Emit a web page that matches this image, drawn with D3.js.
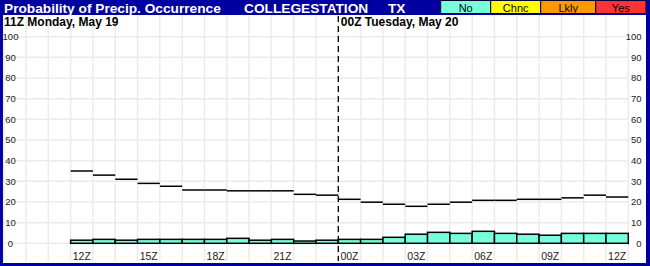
<!DOCTYPE html>
<html>
<head>
<meta charset="utf-8">
<script src="https://cdn.jsdelivr.net/npm/d3@7"></script>
<style>
  html, body { margin: 0; padding: 0; background: #0000A0; }
  svg { display: block; }
  text { font-family: Arial, "Liberation Sans", sans-serif; }
</style>
</head>
<body>
<svg id="chart" width="650" height="266"></svg>
<script>
// ---- data ----
const hours = ["12Z","13Z","14Z","15Z","16Z","17Z","18Z","19Z","20Z","21Z","22Z","23Z",
               "00Z","01Z","02Z","03Z","04Z","05Z","06Z","07Z","08Z","09Z","10Z","11Z","12Z"];
const noValues = [1.5,1.9,1.5,1.9,1.9,1.9,1.9,2.4,1.5,1.9,1.1,1.5,
                  1.9,1.9,2.9,4.4,5.3,4.8,5.8,4.8,4.4,3.9,4.8,4.8,4.8];
const popValues = [35,33,31,29,27.6,25.8,25.8,25.4,25.4,25.4,23.7,23.3,
                   21.3,19.9,18.9,17.9,18.9,19.9,20.8,20.8,21.3,21.3,22,23.3,22.4];
const tickLabels = ["12Z","15Z","18Z","21Z","00Z","03Z","06Z","09Z","12Z"];
const yTicks = [0,10,20,30,40,50,60,70,80,90,100];
const dayLabels = ["11Z Monday, May 19", "00Z Tuesday, May 20"];
const titleText = "Probability of Precip. Occurrence";
const stationText = "COLLEGESTATION";
const stateText = "TX";
const legendNames = ["No","Chnc","Lkly","Yes"];
const legendColors = ["#77FFDD","#FFFF00","#FF9900","#FF3333"];

// ---- layout ----
const W = 650, H = 266;
const svg = d3.select("#chart");
const x = d3.scaleLinear().domain([-3, 25]).range([3.7, 628.3]);
const y = d3.scaleLinear().domain([0, 100]).range([243.3, 36.7]);

// background panel
svg.append("rect").attr("x",0).attr("y",0).attr("width",W).attr("height",H).attr("fill","#0000A0");
svg.append("rect").attr("x",3).attr("y",15).attr("width",643).attr("height",248).attr("fill","#ffffff");

// grid
const grid = svg.append("g").attr("stroke","#ebebeb").attr("stroke-width",1.5);
d3.range(-3, 26).forEach(i => {
  grid.append("line").attr("x1",x(i)).attr("x2",x(i)).attr("y1",15).attr("y2",261);
});
yTicks.forEach(v => {
  grid.append("line").attr("x1",3).attr("x2",x(25)).attr("y1",y(v)).attr("y2",y(v));
});

// y labels
const yl = svg.append("g").attr("font-size","9.5px").attr("fill","#222");
yTicks.forEach(v => {
  yl.append("text").attr("x",10.5).attr("y",y(v)).attr("dy","0.35em")
    .attr("text-anchor","middle").text(v);
  yl.append("text").attr("x",641.5).attr("y",y(v)).attr("dy","0.35em")
    .attr("text-anchor","end").text(v);
});

// bars
svg.append("g").selectAll("rect").data(noValues).join("rect")
  .attr("x",(d,i)=>x(i)).attr("width",(d,i)=>x(i+1)-x(i))
  .attr("y",d=>y(d)).attr("height",d=>y(0)-y(d))
  .attr("fill","#77FFDD").attr("stroke","#000").attr("stroke-width",1.5);

// step line segments
svg.append("g").selectAll("line").data(popValues).join("line")
  .attr("x1",(d,i)=>x(i)).attr("x2",(d,i)=>x(i+1))
  .attr("y1",d=>y(d)).attr("y2",d=>y(d))
  .attr("stroke","#000").attr("stroke-width",1.5);

// day divider
svg.append("line").attr("x1",x(12)).attr("x2",x(12)).attr("y1",16).attr("y2",261)
  .attr("stroke","#000").attr("stroke-width",1.3).attr("stroke-dasharray","6,4");

// x labels
const xl = svg.append("g").attr("font-size","10.5px").attr("fill","#222").attr("text-anchor","middle");
hours.forEach((h,i) => {
  if (i % 3 === 0) xl.append("text").attr("x",(x(i)+x(i+1))/2).attr("y",260).text(h);
});

// day labels
svg.append("text").attr("x",4).attr("y",26).attr("font-size","12px").attr("font-weight","bold")
  .attr("fill","#000").text(dayLabels[0]);
svg.append("text").attr("x",x(12)+2.5).attr("y",26).attr("font-size","12px").attr("font-weight","bold")
  .attr("fill","#000").text(dayLabels[1]);

// title
const tg = svg.append("g").attr("font-size","13.7px").attr("font-weight","bold").attr("fill","#fff");
tg.append("text").attr("x",4).attr("y",13).text(titleText);
tg.append("text").attr("x",244).attr("y",13).text(stationText);
tg.append("text").attr("x",388).attr("y",13).text(stateText);

// legend
const lx = [440.7, 490.7, 540.7, 595.7, 646];
const lg = svg.append("g");
legendNames.forEach((n,i) => {
  lg.append("rect").attr("x",lx[i]).attr("y",0.5).attr("width",lx[i+1]-lx[i]).attr("height",13)
    .attr("fill",legendColors[i]).attr("stroke","#000033").attr("stroke-width",1);
  lg.append("text").attr("x",(lx[i]+lx[i+1])/2).attr("y",11.5).attr("text-anchor","middle")
    .attr("font-size","11px").attr("fill","#000").text(n);
});
</script>
</body>
</html>
